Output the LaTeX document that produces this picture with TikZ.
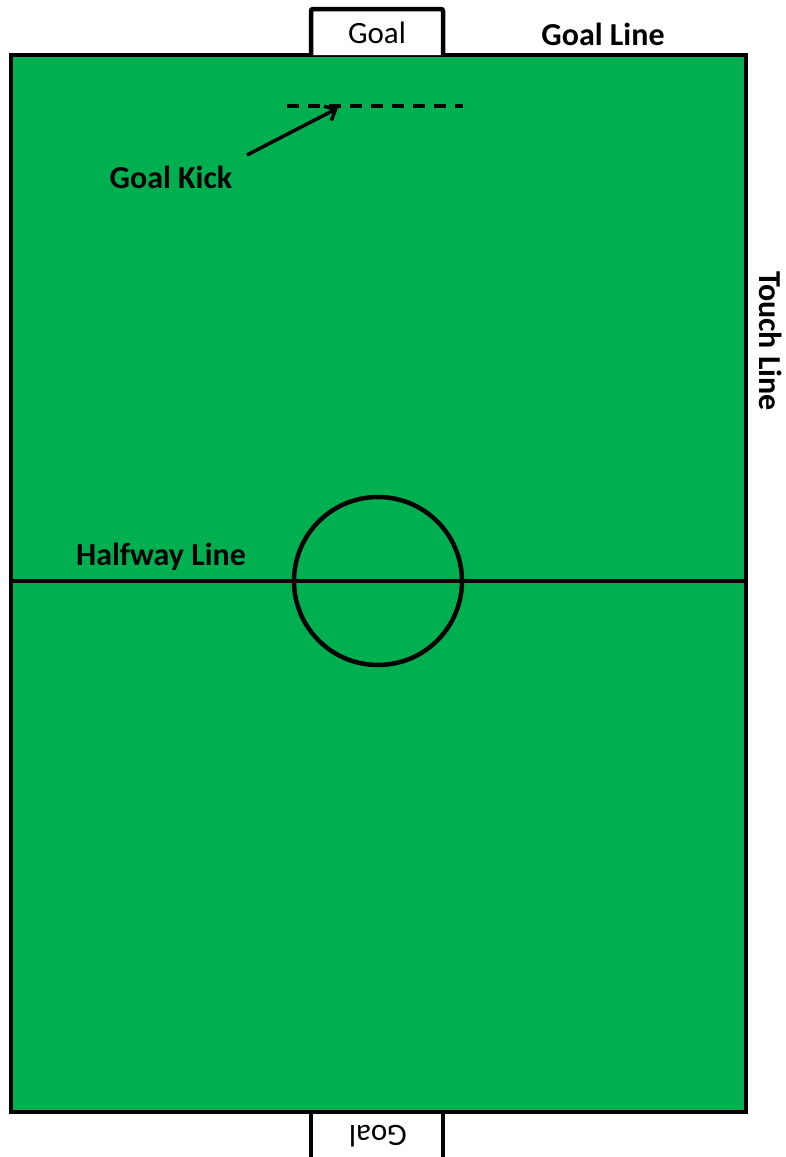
\documentclass[tikz,border=0pt]{standalone}
\usepackage{fontspec}
\setmainfont{Carlito}
\usepackage{xcolor}
\usetikzlibrary{arrows.meta, positioning}

\begin{document}
\begin{tikzpicture}[x=1pt, y=-1pt, >={Straight Barb[length=9pt, width=16pt]}]
    % Màu sân cỏ
    \definecolor{pitchgreen}{RGB}{0, 176, 80}
    \tikzset{
        pitchline/.style={line width=4.5pt, black},
        lbl/.style={font=\fontsize{32}{38}\selectfont\bfseries, inner sep=0pt},
        goallbl/.style={font=\fontsize{31}{37}\selectfont, inner sep=0pt}
    }
    \useasboundingbox (0,0) rectangle (785,1157);

    % 1. Sân cỏ
    \fill[pitchgreen] (11,55) rectangle (746,1112);
    \draw[pitchline] (11,55) rectangle (746,1112);

    % 2. Hai khung thành
    \draw[pitchline, fill=white, rounded corners=2pt] (311,55) -- (311,9) -- (443,9) -- (443,55);
    \draw[pitchline, fill=white] (311,1160) -- (311,1112) -- (443,1112) -- (443,1160);
    \node[goallbl] (goaltop) at (377,33) {Goal};
    \node[goallbl, rotate=180] (goalbottom) at (378,1136) {Goal};

    % 3. Đường giữa sân và vòng tròn trung tâm
    \draw[pitchline] (11,581) -- (746,581);
    \draw[pitchline] (378,581) circle (84);

    % 4. Vạch phát bóng
    \draw[pitchline, line width=3.5pt, dash pattern=on 12pt off 9pt] (287,106) -- (463,106);
    \coordinate (kickspot) at (338,108);
    \coordinate (kickfrom) at (247,155);

    % 5. Nhãn
    \node[lbl] (goalline) at (603,34) {Goal Line};
    \node[lbl] (goalkick) at (171,177) {Goal Kick};
    \node[lbl] (halfway) at (161,557) {Halfway Line};
    \node[lbl, rotate=-90] (touchline) at (771,341) {Touch Line};

    \draw[->, line width=3.5pt] (kickfrom) -- (kickspot);
\end{tikzpicture}
\end{document}
